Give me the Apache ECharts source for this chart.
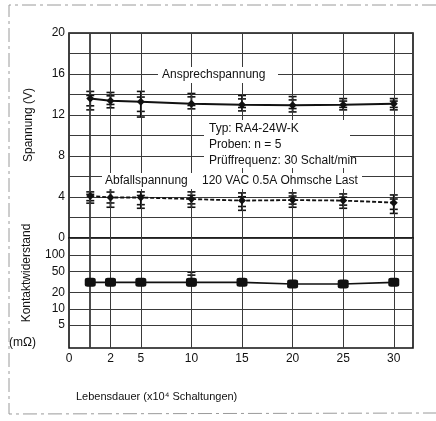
<!DOCTYPE html>
<html>
<head>
<meta charset="utf-8">
<script src="https://cdn.jsdelivr.net/npm/echarts@6/dist/echarts.min.js"></script>
<style>
  html, body { margin: 0; padding: 0; background: #fff; }
  #chart { width: 436px; height: 421px; }
</style>
</head>
<body>
<div id="chart"></div>
<script>
// Lebensdauer in 10^4 Schaltungen
const lifeCycles = [0, 2, 5, 10, 15, 20, 25, 30];

// Ansprechspannung (V): Mittelwert, Max, Min
const pickupV  = [13.6, 13.4, 13.3, 13.1, 13.0, 12.95, 13.0, 13.1];
const pickupHi = [14.3, 14.2, 14.3, 14.1, 13.9, 13.8, 13.6, 13.6];
const pickupLo = [12.5, 12.7, 11.8, 12.6, 12.4, 12.3, 12.5, 12.5];

// Abfallspannung (V): Mittelwert, Max, Min
const dropoutV  = [4.1, 3.95, 3.95, 3.8, 3.65, 3.7, 3.65, 3.45];
const dropoutHi = [4.5, 4.9, 4.5, 4.5, 4.4, 4.4, 4.3, 4.2];
const dropoutLo = [3.4, 3.0, 2.9, 3.0, 2.7, 3.0, 2.9, 2.4];

// Kontaktwiderstand (mOhm)
const contactR  = [31, 31, 31, 31, 31, 29, 29, 31];
const contactHi = [null, null, null, 48, null, null, null, null];
const contactLo = [null, null, null, 27, null, null, null, null];

// Achsbeschriftungen
const xTickValues = [-2.1, 2, 5, 10, 15, 20, 25, 30];
const xTickLabels = ['0', '2', '5', '10', '15', '20', '25', '30'];
const xGridValues = [0, 2, 5, 10, 15, 20, 25, 30];
const voltTicks = [0, 4, 8, 12, 16, 20];
const ohmTicks = [5, 10, 20, 50, 100];

const FONT = '"Liberation Sans", Arial, sans-serif';
const INK = '#111';
const GRID_LINE = '#3a3a3a';

function xLabel(v) {
  for (let i = 0; i < xTickValues.length; i++) {
    if (Math.abs(xTickValues[i] - v) < 1e-6) return xTickLabels[i];
  }
  return '';
}

function errorBars(xIndex, yIndex, lo, hi) {
  const data = [];
  lifeCycles.forEach((x, i) => {
    if (lo[i] != null && hi[i] != null) data.push([x, lo[i], hi[i]]);
  });
  return {
    type: 'custom',
    xAxisIndex: xIndex,
    yAxisIndex: yIndex,
    z: 4,
    silent: true,
    data: data,
    encode: { x: 0, y: [1, 2] },
    renderItem: function (params, api) {
      const x = api.value(0);
      const pLo = api.coord([x, api.value(1)]);
      const pHi = api.coord([x, api.value(2)]);
      const w = 4;
      const style = { stroke: INK, lineWidth: 1.6 };
      const midHi = pHi[1] + (pLo[1] - pHi[1]) * 0.22;
      const midLo = pHi[1] + (pLo[1] - pHi[1]) * 0.78;
      const bar = (y) => ({ type: 'line', shape: { x1: pHi[0] - w, y1: y, x2: pHi[0] + w, y2: y }, style: style });
      return {
        type: 'group',
        children: [
          { type: 'line', shape: { x1: pHi[0], y1: pHi[1], x2: pLo[0], y2: pLo[1] }, style: { stroke: INK, lineWidth: 1.8 } },
          bar(pHi[1]), bar(pLo[1]), bar(midHi), bar(midLo)
        ]
      };
    }
  };
}

function verticalGrid(xIndex, yIndex) {
  return {
    type: 'line',
    xAxisIndex: xIndex,
    yAxisIndex: yIndex,
    data: [],
    silent: true,
    z: 1,
    markLine: {
      silent: true,
      symbol: 'none',
      label: { show: false },
      animation: false,
      lineStyle: { color: GRID_LINE, width: 1, type: 'solid' },
      data: xGridValues.map(v => ({ xAxis: v, lineStyle: { width: v === 0 ? 1.8 : 1 } }))
    }
  };
}

const chart = echarts.init(document.getElementById('chart'), null, { renderer: 'canvas' });

chart.setOption({
  animation: false,
  backgroundColor: '#fff',
  textStyle: { fontFamily: FONT },
  grid: [
    { left: 69, top: 33, width: 344, height: 205, show: true, borderColor: INK, borderWidth: 1.6, backgroundColor: 'transparent' },
    { left: 69, top: 238, width: 344, height: 110, show: true, borderColor: INK, borderWidth: 1.6, backgroundColor: 'transparent' }
  ],
  xAxis: [
    {
      type: 'value', gridIndex: 0, min: -2.1, max: 31.9,
      axisLine: { show: false }, axisTick: { show: false }, axisLabel: { show: false }, splitLine: { show: false }
    },
    {
      type: 'value', gridIndex: 1, min: -2.1, max: 31.9,
      axisLine: { show: false }, axisTick: { show: false }, splitLine: { show: false },
      axisLabel: {
        customValues: xTickValues,
        formatter: xLabel,
        color: INK, fontSize: 12, fontFamily: FONT, margin: 5
      }
    }
  ],
  yAxis: [
    {
      type: 'value', gridIndex: 0, min: 0, max: 20, interval: 2,
      axisLine: { show: false }, axisTick: { show: false },
      axisLabel: {
        color: INK, fontSize: 12, fontFamily: FONT, margin: 4,
        formatter: v => (voltTicks.indexOf(v) >= 0 ? String(v) : '')
      },
      splitLine: { show: true, lineStyle: { color: GRID_LINE, width: 1 } }
    },
    {
      type: 'log', gridIndex: 1, min: 1.87, max: 207, logBase: 10,
      axisLine: { show: false }, axisTick: { show: false }, splitLine: { show: false },
      axisLabel: {
        customValues: ohmTicks,
        color: INK, fontSize: 12, fontFamily: FONT, margin: 4,
        formatter: v => String(Math.round(v))
      }
    }
  ],
  series: [
    verticalGrid(0, 0),
    {
      type: 'line', xAxisIndex: 1, yAxisIndex: 1, data: [], silent: true, z: 1,
      markLine: {
        silent: true, symbol: 'none', label: { show: false }, animation: false,
        lineStyle: { color: GRID_LINE, width: 1, type: 'solid' },
        data: ohmTicks.map(v => ({ yAxis: v })).concat(xGridValues.map(v => ({ xAxis: v, lineStyle: { width: v === 0 ? 1.8 : 1 } })))
      }
    },
    errorBars(0, 0, pickupLo, pickupHi),
    errorBars(0, 0, dropoutLo, dropoutHi),
    errorBars(1, 1, contactLo, contactHi),
    {
      name: 'Ansprechspannung', type: 'line', xAxisIndex: 0, yAxisIndex: 0, z: 5,
      data: lifeCycles.map((x, i) => [x, pickupV[i]]),
      symbol: 'diamond', symbolSize: 8, itemStyle: { color: INK },
      lineStyle: { color: INK, width: 2 }
    },
    {
      name: 'Abfallspannung', type: 'line', xAxisIndex: 0, yAxisIndex: 0, z: 5,
      data: lifeCycles.map((x, i) => [x, dropoutV[i]]),
      symbol: 'diamond', symbolSize: 8, itemStyle: { color: INK },
      lineStyle: { color: INK, width: 1.8, type: [4, 2] }
    },
    {
      name: 'Kontaktwiderstand', type: 'line', xAxisIndex: 1, yAxisIndex: 1, z: 5,
      data: lifeCycles.map((x, i) => [x, contactR[i]]),
      symbol: 'roundRect', symbolSize: [11, 9], itemStyle: { color: INK },
      lineStyle: { color: INK, width: 1.6 }
    }
  ],
  graphic: [
    // gestrichelter Rahmen
    { type: 'polyline', silent: true, shape: { points: [[436, 5], [9, 5], [9, 414], [436, 413]] },
      style: { stroke: '#9a9a9a', lineWidth: 1, fill: null, lineDash: [14, 4, 3, 4] } },
    { type: 'text', x: 29, y: 125, rotation: Math.PI / 2,
      style: { text: 'Spannung (V)', font: '12px ' + FONT, fill: INK, textAlign: 'center', textVerticalAlign: 'middle' } },
    { type: 'text', x: 27, y: 273, rotation: Math.PI / 2,
      style: { text: 'Kontaktwiderstand', font: '12px ' + FONT, fill: INK, textAlign: 'center', textVerticalAlign: 'middle' } },
    { type: 'text', x: 9, y: 343,
      style: { text: '(mΩ)', font: '12px ' + FONT, fill: INK, textAlign: 'left', textVerticalAlign: 'middle' } },
    { type: 'text', x: 76, y: 397,
      style: { text: 'Lebensdauer (x10⁴ Schaltungen)', font: '11px ' + FONT, fill: INK, textAlign: 'left', textVerticalAlign: 'middle' } },
    { type: 'rect', silent: true, shape: { x: 158, y: 67, width: 120, height: 16 }, style: { fill: '#fff' }, z: 10 },
    { type: 'text', x: 162, y: 75, z: 11,
      style: { text: 'Ansprechspannung', font: '12px ' + FONT, fill: INK, textAlign: 'left', textVerticalAlign: 'middle' } },
    { type: 'rect', silent: true, shape: { x: 102, y: 173, width: 260, height: 16 }, style: { fill: '#fff' }, z: 10 },
    { type: 'text', x: 105, y: 181, z: 11,
      style: { text: 'Abfallspannung', font: '12px ' + FONT, fill: INK, textAlign: 'left', textVerticalAlign: 'middle' } },
    { type: 'rect', silent: true, shape: { x: 204, y: 120, width: 146, height: 48 }, style: { fill: '#fff' }, z: 10 },
    { type: 'text', x: 209, y: 129, z: 11,
      style: { text: 'Typ: RA4-24W-K', font: '12px ' + FONT, fill: INK, textAlign: 'left', textVerticalAlign: 'middle' } },
    { type: 'text', x: 209, y: 145, z: 11,
      style: { text: 'Proben: n = 5', font: '12px ' + FONT, fill: INK, textAlign: 'left', textVerticalAlign: 'middle' } },
    { type: 'text', x: 209, y: 161, z: 11,
      style: { text: 'Prüffrequenz: 30 Schalt/min', font: '12px ' + FONT, fill: INK, textAlign: 'left', textVerticalAlign: 'middle' } },
    { type: 'text', x: 202, y: 181, z: 11,
      style: { text: '120 VAC 0.5A Ohmsche Last', font: '12px ' + FONT, fill: INK, textAlign: 'left', textVerticalAlign: 'middle' } }
  ]
});
</script>
</body>
</html>
